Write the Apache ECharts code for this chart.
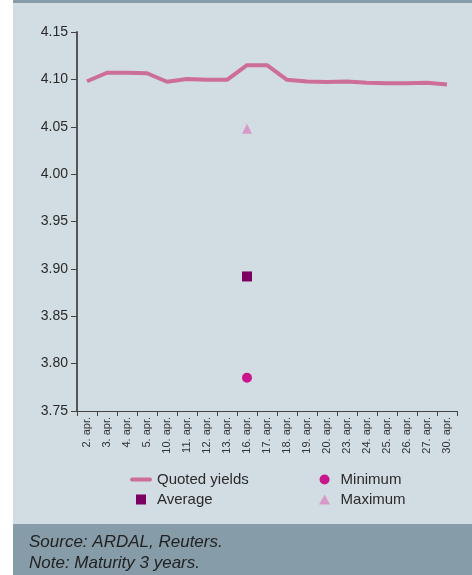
<!DOCTYPE html>
<html>
<head>
<meta charset="utf-8">
<script src="https://cdn.jsdelivr.net/npm/echarts@6/dist/echarts.min.js"></script>
<style>
html,body{margin:0;padding:0;background:#fff;}
#chart{width:472px;height:575px;}
</style>
</head>
<body>
<div id="chart"></div>
<script>
var days=['2. apr.','3. apr.','4. apr.','5. apr.','10. apr.','11. apr.','12. apr.','13. apr.','16. apr.','17. apr.',
	'18. apr.','19. apr.','20. apr.','23. apr.','24. apr.','25. apr.','26. apr.','27. apr.','30. apr.'];
var quoted=[4.098,4.107,4.107,4.1065,4.0975,4.1005,4.0995,4.0995,4.115,4.115,
	4.0995,4.0978,4.0973,4.0978,4.0965,4.096,4.096,4.0965,4.0945];
// single auction day
var minimum=[['16. apr.',3.785]];
var average=[['16. apr.',3.892]];
var maximum=[['16. apr.',4.048]];
var yTicks=[3.75,4.15,0.05]; // min, max, interval

var font='"Liberation Sans", Arial, sans-serif';
var lineColor='#cc6e98', avgColor='#7b0062', minColor='#c9168c', maxColor='#d79ac8';
var chart=echarts.init(document.getElementById('chart'));
var legendText={fontSize:15,color:'#2a2a2a',fontFamily:font};
var footText={fontSize:17,fontStyle:'italic',fontWeight:'normal',color:'#222',fontFamily:font};
var option={
	backgroundColor:'#ffffff',
	animation:false,
	textStyle:{fontFamily:font},
	graphic:[
		{type:'rect',shape:{x:13,y:0,width:459,height:524},style:{fill:'#d2dde3'},z:-10},
		{type:'rect',shape:{x:13,y:0,width:459,height:3},style:{fill:'#869ca8'},z:-9},
		{type:'rect',shape:{x:13,y:524,width:459,height:51},style:{fill:'#869ca8'},z:-9}
	],
	title:[
		{text:'Source: ARDAL, Reuters.',left:29,top:534,padding:0,textStyle:footText},
		{text:'Note: Maturity 3 years.',left:29,top:555,padding:0,textStyle:footText}
	],
	legend:[
		{left:130,top:472,padding:0,orient:'vertical',itemWidth:22,itemHeight:10,itemGap:5,
			data:[
				{name:'Quoted yields',icon:'path://M2,0 L20,0 A2,2 0 0 1 20,4 L2,4 A2,2 0 0 1 2,0 Z'},
				{name:'Average',icon:'path://M0,0 L10,0 L10,10 L0,10 Z'}
			],
			textStyle:legendText},
		{left:319,top:472,padding:0,orient:'vertical',itemWidth:22,itemHeight:10,itemGap:5,
			data:[
				{name:'Minimum',icon:'circle'},
				{name:'Maximum',icon:'path://M5,0 L10,9 L0,9 Z'}
			],
			textStyle:legendText}
	],
	grid:{left:77,right:15,top:32,bottom:164,containLabel:false},
	xAxis:{
		type:'category',
		data:days,
		boundaryGap:true,
		axisLine:{lineStyle:{color:'#444',width:1}},
		axisTick:{show:true,length:5,lineStyle:{color:'#444'}},
		axisLabel:{rotate:90,fontSize:11,color:'#333',margin:6,interval:0,fontFamily:font},
		splitLine:{show:false}
	},
	yAxis:{
		type:'value',
		min:yTicks[0],max:yTicks[1],interval:yTicks[2],
		axisLine:{show:true,lineStyle:{color:'#555',width:2}},
		axisTick:{show:true,length:6,lineStyle:{color:'#444'}},
		axisLabel:{fontSize:14,color:'#2a2a2a',margin:9,fontFamily:font,
			formatter:function(v){return v.toFixed(2);}},
		splitLine:{show:false}
	},
	series:[
		{name:'Quoted yields',type:'line',data:quoted,symbol:'none',
			lineStyle:{color:lineColor,width:4},itemStyle:{color:lineColor}},
		{name:'Average',type:'scatter',data:average,symbol:'rect',symbolSize:10,
			itemStyle:{color:avgColor,opacity:1}},
		{name:'Minimum',type:'scatter',data:minimum,symbol:'circle',symbolSize:10,
			itemStyle:{color:minColor,opacity:1}},
		{name:'Maximum',type:'scatter',data:maximum,symbol:'triangle',symbolSize:10,
			itemStyle:{color:maxColor,opacity:1}}
	]
};
chart.setOption(option);
</script>
</body>
</html>
